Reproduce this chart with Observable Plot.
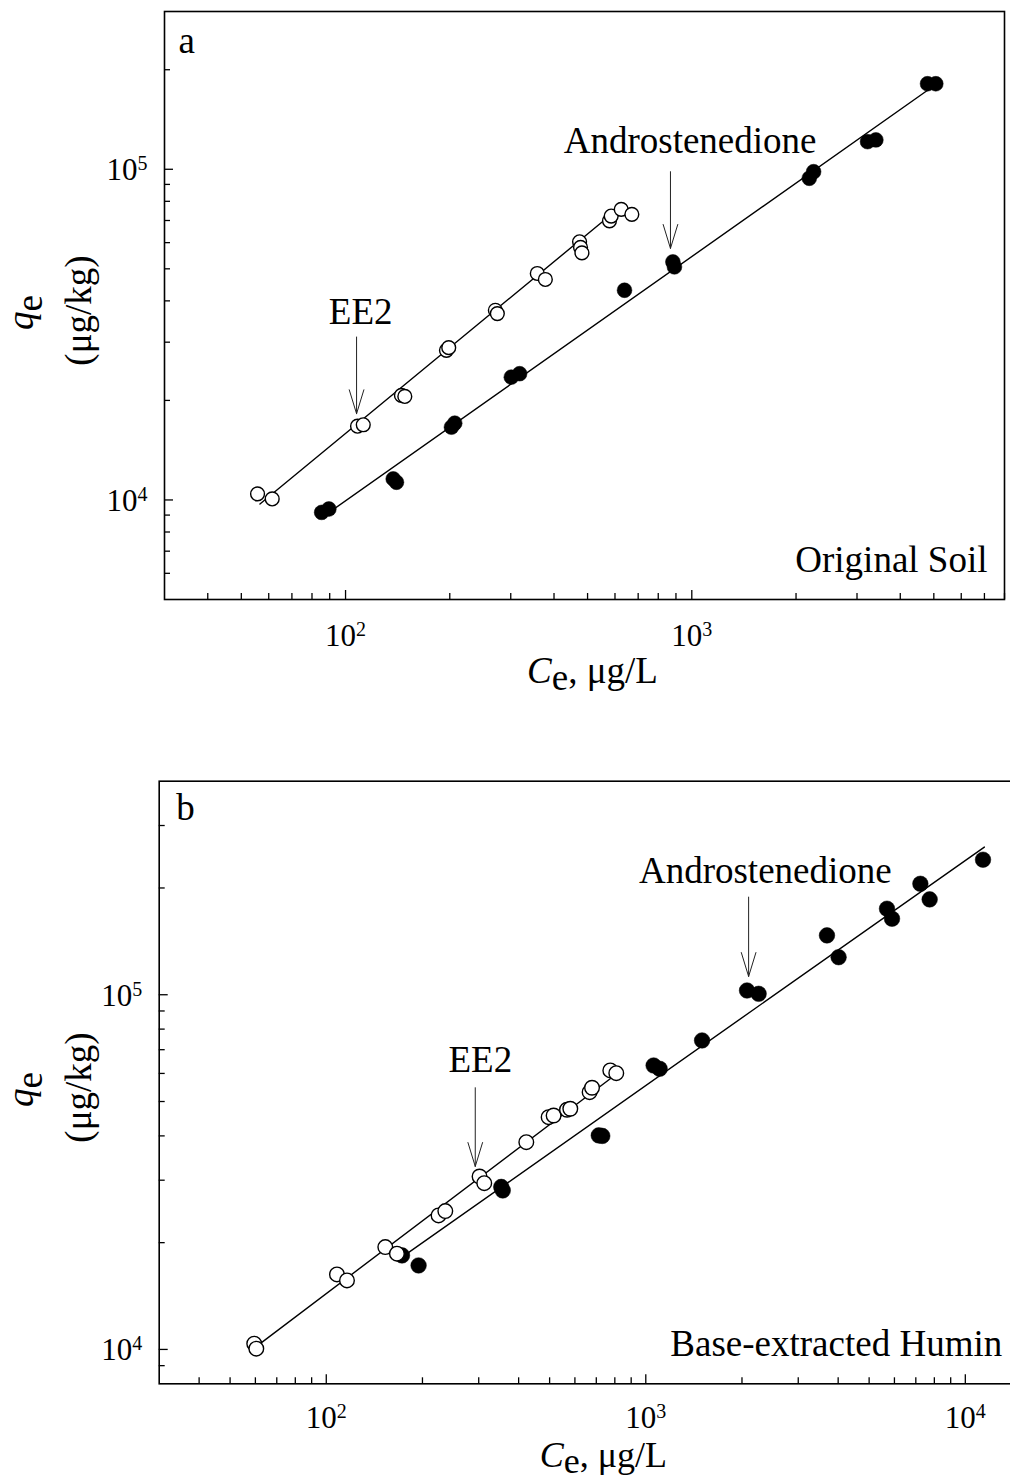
<!DOCTYPE html>
<html><head><meta charset="utf-8">
<script src="https://cdn.jsdelivr.net/npm/d3@7"></script>
<script src="https://cdn.jsdelivr.net/npm/@observablehq/plot@0.6"></script>
<style>
html,body{margin:0;padding:0;background:#fff;overflow:hidden;}
#wrap{position:relative;width:1010px;height:1481px;overflow:hidden;background:#fff;}
#pa{position:absolute;left:0;top:0;width:1010px;height:700px;}
#pb{position:absolute;left:0;top:700px;width:1070px;height:781px;}
#wrap svg{max-width:none !important;display:block;}
</style></head>
<body><div id="wrap"><div id="pa"></div><div id="pb"></div></div>
<script>
// ---------- Panel a: Original Soil ----------
const ee2A_Ce = [55.7, 61.4, 108.3, 112.5, 145.0, 148.3, 195.6, 198.6, 270.8, 274.4, 357.9, 377.6, 474.1, 477.2, 481.6, 578.5, 585.1, 625.4, 671.2];
const ee2A_qe = [10430, 10070, 16710, 16880, 20710, 20560, 28340, 28880, 37470, 36610, 48400, 46420, 60350, 58020, 55880, 69860, 72190, 75650, 73050];
const androA_Ce = [85.3, 89.5, 137.3, 140.3, 202.2, 206.7, 301.1, 318.2, 639.2, 881.7, 891.0, 2184, 2248, 3218, 3401, 4795, 5066];
const androA_qe = [9170, 9390, 11580, 11310, 16600, 17070, 23520, 24090, 43070, 52480, 50680, 93910, 98340, 121200, 122700, 181400, 181400];
const ee2A_fitCe = [56.6, 578];
const ee2A_fitQe = [9725, 72200];
const androA_fitCe = [91.1, 4900];
const androA_fitQe = [9280, 176100];
const annotA_text = ["EE2", "Androstenedione"];
const annotA_Ce = [110.6, 988.8];
const annotA_qe = [34150, 111800];
const arrowA_Ce = [107.6, 867.7];
const arrowA_from = [31100, 98340];
const arrowA_to = [18230, 57640];
const xMajorA = [100, 1000];
const xLabelsA = ["10^2", "10^3"];
const xMinorA = [40, 50, 60, 70, 80, 90, 200, 300, 400, 500, 600, 700, 800, 900, 2000, 3000, 4000, 5000, 6000, 7000, 8000];
const yMajorA = [1e4, 1e5];
const yLabelsA = ["10^4", "10^5"];
const yMinorA = [6000, 7000, 8000, 9000, 20000, 30000, 40000, 50000, 60000, 70000, 80000, 90000, 200000];

// ---------- Panel b: Base-extracted Humin ----------
const ee2B_Ce = [59.5, 60.4, 108.0, 116.1, 153.0, 166.4, 224.6, 235.8, 301.8, 312.2, 422.7, 496.5, 514.6, 566.8, 580.4, 667.1, 678.8, 774.2, 808.4];
const ee2B_qe = [10380, 10050, 16270, 15650, 19430, 18620, 23870, 24550, 30730, 29430, 38410, 45160, 45660, 47400, 47710, 53140, 54680, 61170, 60110];
const androB_Ce = [172.6, 194.5, 352.9, 356.7, 712.6, 730.8, 1058, 1105, 1500, 2074, 2255, 3690, 4013, 5687, 5897, 7233, 7734, 11360];
const androB_qe = [18410, 17250, 28720, 28070, 40120, 39990, 63170, 61830, 74330, 102800, 100600, 147000, 127600, 174800, 163800, 205500, 185700, 240300];
const ee2B_fitCe = [62.1, 774];
const ee2B_fitQe = [10380, 57970];
const androB_fitCe = [178.9, 11470];
const androB_fitQe = [18620, 260800];
const annotB_text = ["EE2", "Androstenedione"];
const annotB_Ce = [303.4, 2366];
const annotB_qe = [60500, 206300];
const arrowB_Ce = [292.6, 2098];
const arrowB_from = [54680, 188500];
const arrowB_to = [32800, 112600];
const xMajorB = [100, 1000, 10000];
const xLabelsB = ["10^2", "10^3", "10^4"];
const xMinorB = [40, 50, 60, 70, 80, 90, 200, 300, 400, 500, 600, 700, 800, 900, 2000, 3000, 4000, 5000, 6000, 7000, 8000, 9000];
const yMajorB = [1e4, 1e5];
const yLabelsB = ["10^4", "10^5"];
const yMinorB = [9000, 20000, 30000, 40000, 50000, 60000, 70000, 80000, 90000, 200000, 300000];

const FONT = "'Liberation Serif','Times New Roman',Times,serif";

function pairs(xs, ys, extra) {
  return xs.map((x, i) => Object.assign({Ce: x, qe: ys[i]}, extra || {}));
}

function makePanel(c) {
  const fh = c.height - c.mt - c.mb;
  const fw = c.width - c.ml - c.mr;
  const open = pairs(c.ee2Ce, c.ee2Qe);
  const filled = pairs(c.anCe, c.anQe);
  const fits = [...pairs(c.ee2FitCe, c.ee2FitQe, {s: "EE2"}), ...pairs(c.anFitCe, c.anFitQe, {s: "Andro"})];
  const annots = c.annotText.map((t, i) => ({t, Ce: c.annotCe[i], qe: c.annotQe[i]}));
  const arrows = c.arrowCe.map((x, i) => ({Ce: x, from: c.arrowFrom[i], to: c.arrowTo[i]}));
  const tickStyle = {stroke: "black", strokeWidth: 1.3};
  return Plot.plot({
    width: c.width, height: c.height,
    marginTop: c.mt, marginRight: c.mr, marginBottom: c.mb, marginLeft: c.ml,
    x: {type: "log", domain: c.xDomain, axis: null},
    y: {type: "log", domain: c.yDomain, axis: null},
    style: {fontFamily: FONT, background: "white", overflow: "visible", maxWidth: "none"},
    marks: [
      Plot.tickX(c.xMinor, {x: d => d, insetTop: fh - 6, ...tickStyle}),
      Plot.tickX(c.xMajor, {x: d => d, insetTop: fh - 9, ...tickStyle}),
      Plot.tickY(c.yMinor, {y: d => d, insetRight: fw - 6, ...tickStyle}),
      Plot.tickY(c.yMajor, {y: d => d, insetRight: fw - 9, ...tickStyle}),
      Plot.frame({stroke: "black", strokeWidth: 1.6}),
      Plot.line(fits, {x: "Ce", y: "qe", z: "s", stroke: "black", strokeWidth: 1.4}),
      Plot.dot(filled, {x: "Ce", y: "qe", r: c.r, fill: "black", stroke: "black", strokeWidth: 0.5}),
      Plot.dot(open, {x: "Ce", y: "qe", r: c.r - 0.5, fill: "white", stroke: "black", strokeWidth: 1.4}),
      Plot.arrow(arrows, {x1: "Ce", x2: "Ce", y1: "from", y2: "to", stroke: "#222", strokeWidth: 1, headLength: 37.5, headAngle: 34}),
      Plot.text(annots, {x: "Ce", y: "qe", text: "t", textAnchor: "middle", lineAnchor: "bottom", fontSize: 37, fill: "black"}),
      // tick labels
      Plot.text(c.xMajor, {x: d => d, text: (d, i) => c.xLabels[i], frameAnchor: "bottom", textAnchor: "middle", lineAnchor: "bottom", dy: c.xtickDy, fontSize: 31, fill: "black"}),
      Plot.text(c.yMajor, {y: d => d, text: (d, i) => c.yLabels[i], frameAnchor: "left", textAnchor: "end", lineAnchor: "bottom", dx: -17, dy: 11, fontSize: 31, fill: "black"}),
      // panel letter and sample name
      Plot.text([c.letter], {frameAnchor: "top-left", textAnchor: "start", lineAnchor: "bottom", dx: c.letterDx, dy: c.letterDy, fontSize: 37, fill: "black"}),
      Plot.text([c.name], {frameAnchor: "bottom-right", textAnchor: "end", lineAnchor: "bottom", dx: c.nameDx, dy: c.nameDy, fontSize: 37, fill: "black"}),
      // axis titles
      Plot.text(["Ce, μg/L"], {frameAnchor: "bottom", textAnchor: "middle", lineAnchor: "bottom", dx: c.xlabDx, dy: c.xlabDy, fontSize: c.xlabSize, fill: "black"}),
      Plot.text(["qe"], {frameAnchor: "left", rotate: -90, textAnchor: "middle", lineAnchor: "bottom", dx: c.qDx, dy: c.qDy, fontSize: 37, fill: "black"}),
      Plot.text(["(μg/kg)"], {frameAnchor: "left", rotate: -90, textAnchor: "middle", lineAnchor: "bottom", dx: c.uDx, dy: c.uDy, fontSize: 37, fill: "black"})
    ]
  });
}

function richText(svg, subShift) {
  svg.style.maxWidth = "none";
  svg.style.width = svg.getAttribute("width") + "px";
  svg.style.height = svg.getAttribute("height") + "px";
  d3.select(svg).selectAll("text").each(function() {
    const el = d3.select(this);
    const t = this.textContent;
    let m = /^(\d+)\^(\d+)$/.exec(t);
    if (m) {
      el.text(null);
      el.append("tspan").text(m[1]);
      el.append("tspan").attr("dy", -10).attr("font-size", 20).text(m[2]);
    } else if (t === "Ce, μg/L") {
      el.text(null);
      el.append("tspan").attr("font-style", "italic").text("C");
      el.append("tspan").attr("dy", subShift).text("e");
      el.append("tspan").attr("dy", -subShift).text(", μg/L");
    } else if (t === "qe") {
      el.text(null);
      el.append("tspan").attr("font-style", "italic").text("q");
      el.append("tspan").attr("dy", 9).text("e");
    }
  });
  return svg;
}

const svgA = makePanel({
  width: 1010, height: 700, mt: 11, mr: 6, mb: 101, ml: 164,
  xDomain: [30, 8000], yDomain: [5000, 300000], r: 7.4,
  ee2Ce: ee2A_Ce, ee2Qe: ee2A_qe, anCe: androA_Ce, anQe: androA_qe,
  ee2FitCe: ee2A_fitCe, ee2FitQe: ee2A_fitQe, anFitCe: androA_fitCe, anFitQe: androA_fitQe,
  annotText: annotA_text, annotCe: annotA_Ce, annotQe: annotA_qe,
  arrowCe: arrowA_Ce, arrowFrom: arrowA_from, arrowTo: arrowA_to,
  xMajor: xMajorA, xLabels: xLabelsA, xMinor: xMinorA,
  yMajor: yMajorA, yLabels: yLabelsA, yMinor: yMinorA,
  letter: "a", letterDx: 14, letterDy: 41.7,
  name: "Original Soil", nameDx: -17, nameDy: -27.3,
  xtickDy: 46, xlabDx: 8, xlabDy: 83, xlabSize: 37,
  qDx: -132, qDy: 7, uDx: -74, uDy: 5
});
const svgB = makePanel({
  width: 1070, height: 781, mt: 80.7, mr: 9, mb: 97.7, ml: 158.7,
  xDomain: [30, 20000], yDomain: [8000, 400000], r: 7.8,
  ee2Ce: ee2B_Ce, ee2Qe: ee2B_qe, anCe: androB_Ce, anQe: androB_qe,
  ee2FitCe: ee2B_fitCe, ee2FitQe: ee2B_fitQe, anFitCe: androB_fitCe, anFitQe: androB_fitQe,
  annotText: annotB_text, annotCe: annotB_Ce, annotQe: annotB_qe,
  arrowCe: arrowB_Ce, arrowFrom: arrowB_from, arrowTo: arrowB_to,
  xMajor: xMajorB, xLabels: xLabelsB, xMinor: xMinorB,
  yMajor: yMajorB, yLabels: yLabelsB, yMinor: yMinorB,
  letter: "b", letterDx: 17, letterDy: 38.6,
  name: "Base-extracted Humin", nameDx: -59.3, nameDy: -28.3,
  xtickDy: 44, xlabDx: -7, xlabDy: 83, xlabSize: 36,
  qDx: -126.7, qDy: 7, uDx: -68.7, uDy: 5
});
document.getElementById("pa").appendChild(richText(svgA, 7));
document.getElementById("pb").appendChild(richText(svgB, 6));
</script>
</body></html>
